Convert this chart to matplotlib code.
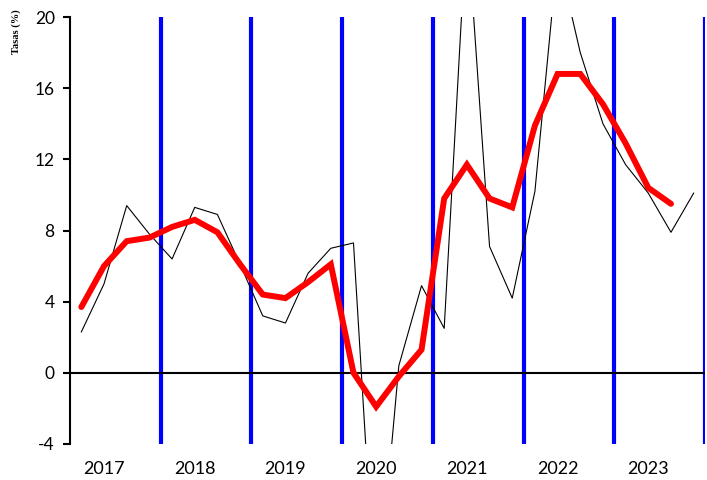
#!/usr/bin/env python3
# -*- coding: utf-8 -*-
"""
Quarterly rates chart (2017-2023)
"""

import matplotlib
matplotlib.use('Agg')
import matplotlib.pyplot as plt
import numpy as np

# Data (quarterly, 2017Q1 .. 2023Q4)
years = ['2017', '2018', '2019', '2020', '2021', '2022', '2023']
quarterly_rate = [2.3, 5.0, 9.4, 7.8, 6.4, 9.3, 8.9, 6.1, 3.2, 2.8, 5.6, 7.0,
                  7.3, -13.7, 0.4, 4.9, 2.5, 25.5, 7.1, 4.2, 10.2, 23.5, 18.0, 14.0,
                  11.7, 10.1, 7.9, 10.1]
moving_avg = [3.7, 6.0, 7.4, 7.6, 8.2, 8.6, 7.9, 6.1, 4.4, 4.2, 5.1, 6.1,
              0.0, -1.9, -0.2, 1.3, 9.8, 11.7, 9.8, 9.3, 13.9, 16.8, 16.8, 15.1,
              12.9, 10.4, 9.5]
y_ticks = [-4, 0, 4, 8, 12, 16, 20]

plt.rcParams['font.family'] = ['Lato', 'DejaVu Sans']

fig = plt.figure(figsize=(7.07, 4.8), dpi=100)
ax = fig.add_axes([70 / 707, 36 / 480, 635 / 707, 427 / 480])

n = len(quarterly_rate)
x_all = np.arange(n)

# Year separators
for b in np.arange(3.5, n, 4):
    ax.axvline(b, color='#0000FF', linewidth=3.0, zorder=1)

ax.axhline(0, color='black', linewidth=1.5, zorder=2)

ax.plot(x_all, quarterly_rate, color='black', linewidth=0.8, zorder=3)
ax.plot(np.arange(len(moving_avg)), moving_avg, color='#FF0000', linewidth=4.3,
        solid_joinstyle='miter', solid_capstyle='round', zorder=4)

ax.set_xlim(-0.5, n - 0.5)
ax.set_ylim(-4, 20)
ax.set_yticks(y_ticks)
ax.set_yticklabels([str(v) for v in y_ticks], fontsize=12.5)
ax.set_xticks(np.arange(1, n, 4))
ax.set_xticklabels(years, fontsize=13)
ax.tick_params(axis='x', length=0, pad=12)
ax.tick_params(axis='y', direction='out', length=5, width=1.5, pad=6)

for side in ['top', 'right', 'bottom']:
    ax.spines[side].set_visible(False)
ax.spines['left'].set_linewidth(1.5)

fig.text(16 / 707, (480 - 32) / 480, 'Tasas (%)', rotation=90, ha='center', va='center',
         fontsize=7.5, fontweight='bold', family='Liberation Serif')

plt.savefig('out.png', dpi=100)
plt.close()
